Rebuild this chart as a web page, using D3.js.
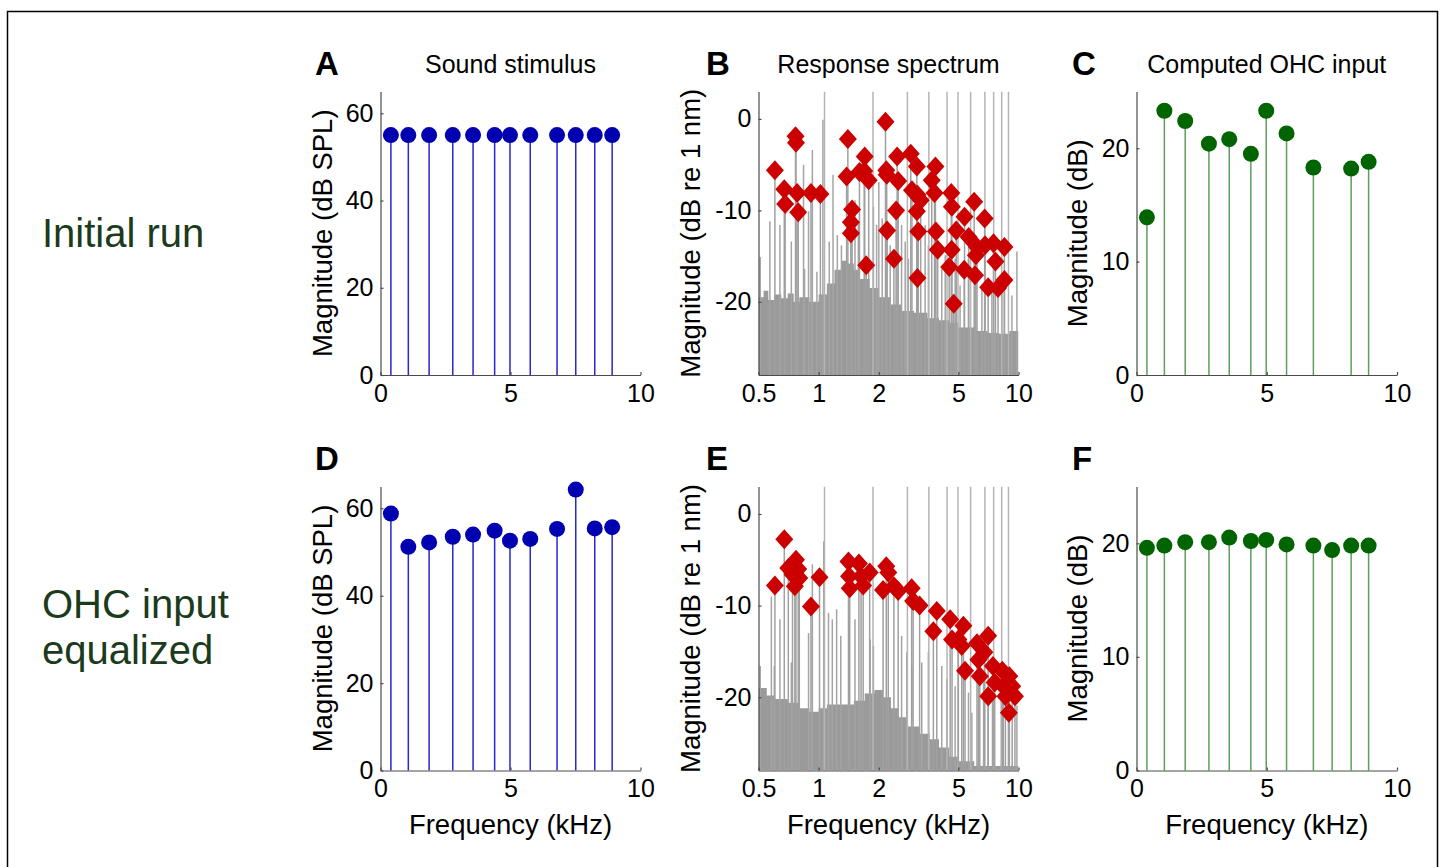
<!DOCTYPE html>
<html>
<head>
<meta charset="utf-8">
<script src="https://cdn.jsdelivr.net/npm/d3@7"></script>
<style>
body{margin:0;background:#fff}
svg text{font-family:"Liberation Sans",Arial,sans-serif}
</style>
</head>
<body>
<svg id="fig" width="1444" height="867"></svg>
<script>
// stimulus tone frequencies (kHz)
var stimFreqs = [0.4, 1.07, 1.87, 2.78, 3.56, 4.39, 4.98, 5.76, 6.79, 7.51, 8.24, 8.91];
// A / D : sound stimulus (dB SPL)
var stimInitial = [55, 55, 55, 55, 55, 55, 55, 55, 55, 55, 55, 55];
var stimEqualized = [58.8, 51.2, 52.2, 53.5, 54.0, 54.9, 52.6, 53.0, 55.3, 64.3, 55.4, 55.7];
// C / F : computed OHC input (dB); null = not plotted
var ohcInitial = [13.9, 23.3, 22.4, 20.4, 20.8, 19.5, 23.3, 21.3, 18.3, null, 18.2, 18.8];
var ohcEqualized = [19.6, 19.8, 20.1, 20.1, 20.5, 20.2, 20.3, 19.9, 19.8, 19.4, 19.8, 19.8];

// B / E : response spectrum noise floor envelope [kHz, dB]
var floorInitial = [[0.5,-19.5],[0.53,-18.8],[0.56,-19.8],[0.6,-19.2],[0.65,-19.6],[0.7,-19.1],[0.75,-20],[0.8,-19.5],[0.9,-20],
  [1.0,-19.2],[1.1,-18],[1.2,-16.5],[1.3,-15.5],[1.4,-15.8],[1.5,-16.5],[1.6,-17.5],[1.8,-18.5],[2.0,-19.5],[2.3,-20.3],
  [2.6,-21],[3.0,-21.2],[3.5,-21.8],[4.0,-22],[4.5,-22.3],[5,-22.8],[6,-23.2],[7,-23.4],[8,-23.5],[9,-23.2],[10,-23.6]];
var floorEqualized = [[0.5,-19],[0.55,-19.8],[0.6,-20.2],[0.7,-20.6],[0.8,-21.2],[0.9,-21.6],[1.0,-21.2],[1.1,-20.8],[1.2,-20.8],
  [1.3,-20.8],[1.5,-20.4],[1.7,-19.6],[1.9,-19.2],[2.1,-20],[2.3,-21.2],[2.5,-22.2],[2.8,-23.2],[3.2,-24],[3.6,-24.6],[4.0,-25.5],
  [4.5,-26.5],[5,-27],[6,-27.5],[10,-27.8]];
// other spectral lines [kHz, dB]
var spikesInitial = [[0.51,-15.1],[0.57,-11.2],[0.64,-11.6],[0.73,-13.4],[0.84,-5.0],[0.85,-16.4],[0.89,-10.1],[0.93,-3.4],
  [0.98,-16.7],[1.05,-0.1],[1.13,-13.4],[1.18,-6.1],[1.24,-12.7],[1.30,-13.8],[1.52,-8.9],[1.58,-11.2],[1.88,-9.6],
  [1.95,-11.6],[2.0,-6.9],[2.08,-10.9],[2.28,-13.8],[2.6,-11.6],[2.71,-13.4],[2.81,-15.3],[3.41,-11.6],[3.54,-13.8],
  [4.13,-16.4],[4.3,-14.9],[4.82,-15.3],[5.1,-18.2],[5.62,-15.3],[6.56,-18.2],[7.36,-18.9],[8.26,-17.8],[9.27,-19.3],[9.82,-14.5]];
var spikesEqualized = [[0.51,-16.6],[0.58,-9.0],[0.60,-16.6],[0.64,-11.5],[0.73,-16.2],[0.89,-13.0],[0.93,-5.5],[1.06,-3.0],
  [1.12,-10.8],[1.17,-11.5],[1.23,-10.4],[1.29,-13.3],[1.52,-11.5],[1.81,-13.7],[1.88,-14.4],[2.6,-13.3],[2.76,-15.1],
  [2.92,-16.6],[3.28,-16.2],[3.54,-15.1],[4.13,-16.6],[4.38,-18.0],[4.82,-18.8],[5.62,-19.5],[5.84,-21.7],[6.69,-18.4],
  [7.41,-19.5],[8.2,-20.2],[8.92,-21.7],[9.82,-20.9]];
// distortion products (red diamonds) [kHz, dB]
var dpInitial = [[0.604,-5.6],[0.673,-7.7],[0.68,-9.3],[0.766,-1.9],[0.77,-2.6],[0.78,-8.1],[0.79,-10.2],[0.915,-8.1],[1.02,-8.2],
  [1.40,-2.2],[1.38,-6.3],[1.47,-9.9],[1.45,-11.3],[1.45,-12.5],[1.6,-5.8],[1.70,-4.1],[1.69,-5.7],[1.78,-6.7],[1.73,-16.0],
  [2.16,-0.3],[2.18,-5.6],[2.19,-6.1],[2.2,-12.2],[2.47,-4.1],[2.5,-6.8],[2.44,-10.0],[2.38,-15.3],[2.89,-3.8],[3.1,-5.2],
  [2.93,-7.8],[3.12,-8.3],[3.24,-8.9],[3.1,-10.1],[3.15,-12.3],[3.12,-17.4],[3.84,-5.2],[3.68,-6.7],[3.8,-8.1],[3.86,-12.3],
  [3.94,-14.3],[4.61,-8.1],[4.64,-9.6],[4.88,-12.2],[4.63,-14.3],[4.5,-16.2],[4.74,-20.2],[5.37,-10.7],[5.63,-12.9],
  [5.35,-16.5],[6.0,-9.05],[6.12,-14.9],[6.2,-14.0],[6.06,-17.1],[6.77,-10.9],[6.8,-13.8],[7.05,-18.4],[7.5,-13.6],
  [7.67,-15.6],[7.9,-18.5],[8.5,-14.0],[8.5,-17.6]];
var dpEqualized = [[0.673,-2.75],[0.604,-7.8],[0.705,-5.9],[0.77,-5.0],[0.74,-6.6],[0.79,-6.0],[0.76,-7.9],[0.8,-7.0],[0.915,-10.1],
  [1.01,-6.9],[1.41,-5.2],[1.42,-6.8],[1.43,-8.1],[1.59,-5.4],[1.63,-6.8],[1.67,-7.8],[1.8,-6.4],[2.18,-5.7],[2.1,-8.3],
  [2.23,-6.4],[2.38,-7.9],[2.5,-8.4],[2.92,-8.1],[2.97,-9.5],[3.2,-10.0],[3.9,-10.6],[3.75,-12.8],[4.55,-11.5],[4.65,-13.7],
  [5.3,-12.2],[5.0,-13.7],[5.2,-14.4],[5.4,-17.1],[6.2,-14.1],[7.05,-13.3],[6.3,-15.9],[6.75,-15.1],[6.4,-17.7],[7.45,-16.6],
  [8.3,-17.1],[7.05,-19.9],[8.4,-18.8],[9.0,-17.7],[9.3,-18.8],[9.6,-19.9],[8.95,-21.7],[7.6,-18.4],[8.6,-19.9]];

var linTicks = [0, 5, 10];
var logTicks = [0.5, 1, 2, 5, 10];
var splTicks = [0, 20, 40, 60];
var specTicks = [-20, -10, 0];
var ohcTicks = [0, 10, 20];

var svg = d3.select('#fig');
svg.append('rect').attr('x', 7.5).attr('y', 11.5).attr('width', 1430).attr('height', 900)
  .attr('fill', 'none').attr('stroke', '#000').attr('stroke-width', 1.5);

var cols = [{x0: 380.5, x1: 640.5, lx: 315, yl: 332}, {x0: 758.5, x1: 1018.5, lx: 706, yl: 700}, {x0: 1136.5, x1: 1397, lx: 1072, yl: 1087}];
var rows = [{y0: 91.5, y1: 375, letter: 75}, {y0: 486.5, y1: 770.5, letter: 470}];

var blueDot = '#0000b0', blueStem = '#2727d0';
var greenDot = '#006400', greenStem = '#5e9e5e';
var plain = function (d) { return String(d); };

function drawAxes(g, x, y, xt, yt) {
  var xa = d3.axisBottom(x).tickValues(xt).tickSize(-3).tickSizeOuter(0).tickPadding(8).tickFormat(plain);
  var ya = d3.axisLeft(y).tickValues(yt).tickSize(-3).tickSizeOuter(0).tickPadding(7).tickFormat(plain);
  var gx = g.append('g').attr('transform', 'translate(0,' + y.range()[0] + ')').call(xa);
  var gy = g.append('g').attr('transform', 'translate(' + x.range()[0] + ',0)').call(ya);
  [gx, gy].forEach(function (a) {
    a.selectAll('path,line').attr('stroke', '#4a4a4a').attr('stroke-width', 1.2);
    a.selectAll('text').style('font-size', '25px').style('fill', '#000');
  });
  gx.selectAll('text').attr('dy', '0.75em');
}

function labels(col, row, letter, title, ylabel, xlabel) {
  var c = cols[col], r = rows[row];
  svg.append('text').attr('x', c.lx).attr('y', r.letter).text(letter)
    .style('font-size', '33px').style('font-weight', 'bold');
  if (title) {
    svg.append('text').attr('x', (c.x0 + c.x1) / 2).attr('y', r.letter - 2).attr('text-anchor', 'middle')
      .text(title).style('font-size', '25px');
  }
  svg.append('text').attr('transform', 'translate(' + c.yl + ',' + ((r.y0 + r.y1) / 2) + ') rotate(-90)')
    .attr('text-anchor', 'middle').text(ylabel).style('font-size', '27.5px');
  if (xlabel) {
    svg.append('text').attr('x', (c.x0 + c.x1) / 2).attr('y', 834).attr('text-anchor', 'middle')
      .text(xlabel).style('font-size', '27.5px');
  }
}

function stemPanel(col, row, values, ymax, yt, stemColor, dotColor) {
  var c = cols[col], r = rows[row];
  var x = d3.scaleLinear().domain([0, 10]).range([c.x0, c.x1]);
  var y = d3.scaleLinear().domain([0, ymax]).range([r.y1, r.y0]);
  var g = svg.append('g');
  var pts = stimFreqs.map(function (f, i) { return {f: f, v: values[i]}; })
    .filter(function (d) { return d.v !== null; });
  g.selectAll('line.stem').data(pts).enter().append('line')
    .attr('x1', function (d) { return x(d.f); }).attr('x2', function (d) { return x(d.f); })
    .attr('y1', y(0)).attr('y2', function (d) { return y(d.v); })
    .attr('stroke', stemColor).attr('stroke-width', 1.5);
  drawAxes(g, x, y, linTicks, yt);
  g.selectAll('circle').data(pts).enter().append('circle')
    .attr('cx', function (d) { return x(d.f); }).attr('cy', function (d) { return y(d.v); })
    .attr('r', 8).attr('fill', dotColor);
}

function spectrumPanel(col, row, floorPts, spikes, dps, clipId) {
  var c = cols[col], r = rows[row];
  var x = d3.scaleLog().domain([0.5, 10]).range([c.x0, c.x1]);
  var y = d3.scaleLinear().domain([-28, 3]).range([r.y1, r.y0]);
  svg.append('clipPath').attr('id', clipId).append('rect')
    .attr('x', c.x0).attr('y', r.y0).attr('width', c.x1 - c.x0).attr('height', r.y1 - r.y0);
  var g = svg.append('g');
  var pg = g.append('g').attr('clip-path', 'url(#' + clipId + ')');
  var area = d3.area().curve(d3.curveStepAfter)
    .x(function (d) { return x(d[0]); }).y0(y(-28)).y1(function (d) { return y(d[1]); });
  pg.append('path').datum(floorPts).attr('d', area).attr('fill', '#9a9a9a');
  pg.selectAll('line.sp').data(spikes).enter().append('line')
    .attr('x1', function (d) { return x(d[0]); }).attr('x2', function (d) { return x(d[0]); })
    .attr('y1', y(-28)).attr('y2', function (d) { return y(d[1]); })
    .attr('stroke', '#a4a4a4').attr('stroke-width', 1.5);
  pg.selectAll('line.st').data(stimFreqs.filter(function (f) { return f >= 0.5; })).enter().append('line')
    .attr('x1', function (d) { return x(d); }).attr('x2', function (d) { return x(d); })
    .attr('y1', y(-28)).attr('y2', y(3))
    .attr('stroke', '#b4b4b4').attr('stroke-width', 1.5);
  pg.selectAll('line.dp').data(dps).enter().append('line')
    .attr('x1', function (d) { return x(d[0]); }).attr('x2', function (d) { return x(d[0]); })
    .attr('y1', y(-28)).attr('y2', function (d) { return y(d[1]); })
    .attr('stroke', '#a0a0a0').attr('stroke-width', 1.5);
  drawAxes(g, x, y, logTicks, specTicks);
  g.selectAll('path.dia').data(dps).enter().append('path')
    .attr('d', 'M0,-10L9,0L0,10L-9,0Z')
    .attr('transform', function (d) { return 'translate(' + x(d[0]) + ',' + y(d[1]) + ')'; })
    .attr('fill', '#cc0000');
}

stemPanel(0, 0, stimInitial, 65, splTicks, blueStem, blueDot);
stemPanel(0, 1, stimEqualized, 65, splTicks, blueStem, blueDot);
spectrumPanel(1, 0, floorInitial, spikesInitial, dpInitial, 'clipB');
spectrumPanel(1, 1, floorEqualized, spikesEqualized, dpEqualized, 'clipE');
stemPanel(2, 0, ohcInitial, 25, ohcTicks, greenStem, greenDot);
stemPanel(2, 1, ohcEqualized, 25, ohcTicks, greenStem, greenDot);

labels(0, 0, 'A', 'Sound stimulus', 'Magnitude (dB SPL)', null);
labels(1, 0, 'B', 'Response spectrum', 'Magnitude (dB re 1 nm)', null);
labels(2, 0, 'C', 'Computed OHC input', 'Magnitude (dB)', null);
labels(0, 1, 'D', null, 'Magnitude (dB SPL)', 'Frequency (kHz)');
labels(1, 1, 'E', null, 'Magnitude (dB re 1 nm)', 'Frequency (kHz)');
labels(2, 1, 'F', null, 'Magnitude (dB)', 'Frequency (kHz)');

var rowColor = '#1c3a1c';
svg.append('text').attr('x', 42).attr('y', 247).text('Initial run').style('font-size', '40px').style('fill', rowColor);
svg.append('text').attr('x', 42).attr('y', 618).text('OHC input').style('font-size', '40px').style('fill', rowColor);
svg.append('text').attr('x', 42).attr('y', 664).text('equalized').style('font-size', '40px').style('fill', rowColor);
</script>
</body>
</html>
